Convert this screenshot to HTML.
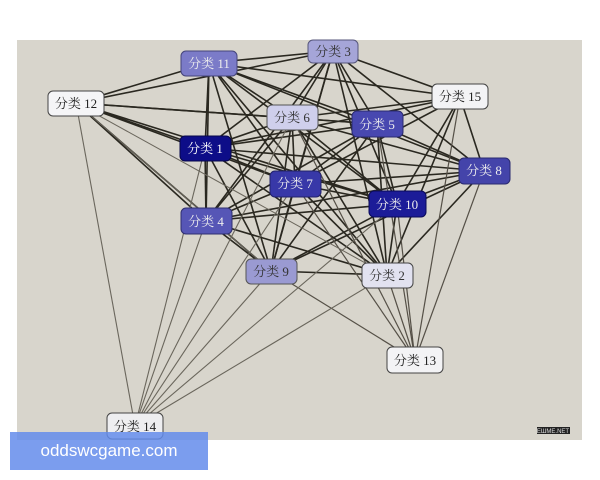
<!DOCTYPE html>
<html><head><meta charset="utf-8"><style>
body{margin:0;width:600px;height:480px;background:#fff;overflow:hidden;position:relative;font-family:"Liberation Sans","Noto Sans CJK SC",sans-serif}
svg{position:absolute;left:0;top:0}
.wm{position:absolute;left:10px;top:432px;width:198px;height:38px;background:rgba(100,140,235,0.85);color:#fff;font-size:17px;line-height:38px;text-align:center}
</style></head><body>
<svg width="600" height="480" xmlns="http://www.w3.org/2000/svg">
<rect x="17" y="40" width="565" height="400" fill="#d8d5cc"/>
<g id="edges"></g>
<g font-family="Liberation Serif,Noto Serif CJK SC,serif" font-size="13" text-anchor="middle">
<rect x="181" y="51" width="56" height="25" rx="5" fill="#7b7bc8" stroke="#44447a"/><text x="209" y="68" fill="#eee">分类 11</text>
<rect x="308" y="40" width="50" height="23" rx="5" fill="#a5a5d8" stroke="#55557a"/><text x="333" y="56" fill="#333">分类 3</text>
<rect x="48" y="91" width="56" height="25" rx="5" fill="#f5f5f7" stroke="#444"/><text x="76" y="108" fill="#222">分类 12</text>
<rect x="432" y="84" width="56" height="25" rx="5" fill="#f3f3f5" stroke="#444"/><text x="460" y="101" fill="#222">分类 15</text>
<rect x="267" y="105" width="51" height="25" rx="5" fill="#cfcfec" stroke="#555"/><text x="292" y="122" fill="#333">分类 6</text>
<rect x="352" y="111" width="51" height="26" rx="5" fill="#4848b0" stroke="#2a2a70"/><text x="377" y="129" fill="#eee">分类 5</text>
<rect x="180" y="136" width="51" height="25" rx="5" fill="#0d0d88" stroke="#06064a"/><text x="205" y="153" fill="#fff">分类 1</text>
<rect x="459" y="158" width="51" height="26" rx="5" fill="#4444aa" stroke="#2a2a70"/><text x="484" y="175" fill="#eee">分类 8</text>
<rect x="270" y="171" width="51" height="26" rx="5" fill="#3838a8" stroke="#22226a"/><text x="295" y="188" fill="#eee">分类 7</text>
<rect x="369" y="191" width="57" height="26" rx="5" fill="#1c1c98" stroke="#0a0a5a"/><text x="397" y="209" fill="#eee">分类 10</text>
<rect x="181" y="208" width="51" height="26" rx="5" fill="#5656b6" stroke="#2f2f70"/><text x="206" y="226" fill="#eee">分类 4</text>
<rect x="246" y="259" width="51" height="25" rx="5" fill="#9a9ad2" stroke="#555"/><text x="271" y="276" fill="#333">分类 9</text>
<rect x="362" y="263" width="51" height="25" rx="5" fill="#e2e2f0" stroke="#444"/><text x="387" y="280" fill="#333">分类 2</text>
<rect x="387" y="347" width="56" height="26" rx="5" fill="#f3f3f5" stroke="#444"/><text x="415" y="365" fill="#222">分类 13</text>
<rect x="107" y="413" width="56" height="26" rx="5" fill="#eeeef0" stroke="#444"/><text x="135" y="431" fill="#222">分类 14</text>
</g>
<rect x="537" y="427" width="33" height="7" fill="#222"/><text x="553" y="433" font-size="6" fill="#ddd" text-anchor="middle" font-family="Liberation Sans">ЕШМЕ.NET</text>
</svg>
<div class="wm">oddswcgame.com</div>
<script>
var N={11:[209,63],3:[333,51],12:[76,103],15:[460,97],6:[292,118],5:[377,124],1:[205,148],8:[484,171],7:[295,184],10:[397,204],4:[206,221],9:[271,271],2:[387,275],13:[415,360],14:[135,426]};
var main=[11,3,12,15,6,5,1,8,7,10,4,9,2];
var g=document.getElementById('edges'),s='';
function L(a,b,w,c){s+='<line x1="'+N[a][0]+'" y1="'+N[a][1]+'" x2="'+N[b][0]+'" y2="'+N[b][1]+'" stroke="'+c+'" stroke-width="'+w+'"/>';}
for(var i=0;i<main.length;i++)for(var j=i+1;j<main.length;j++){var a=main[i],b=main[j];if((a==12&&(b==8||b==15||b==2))||(a==15&&(b==4||b==9)))continue;L(a,b,1.6,'#2a2820');}
[9,2,10,8,15,5,6,7].forEach(function(b){L(13,b,1.2,'#555047');});
[12,1,4,9,7,6,10,2].forEach(function(b){L(14,b,1.1,'#6a665c');});
L(12,9,1,'#6a665c');L(12,2,1,'#6a665c');
g.innerHTML=s;
</script>
</body></html>
